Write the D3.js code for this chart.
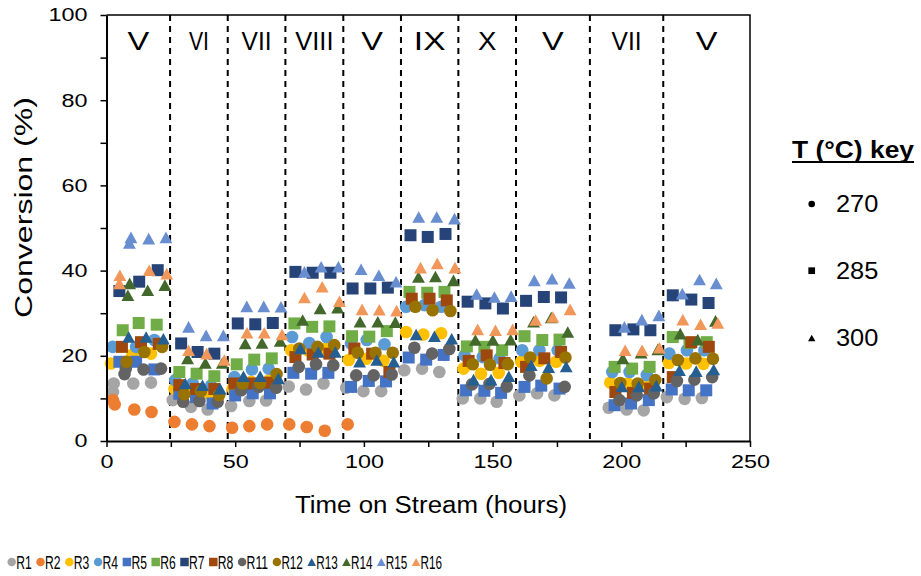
<!DOCTYPE html>
<html>
<head>
<meta charset="utf-8">
<script src="https://cdn.jsdelivr.net/npm/d3@7"></script>
<style>
  html, body { margin: 0; padding: 0; background: #fff; }
  svg { display: block; font-family: "Liberation Sans", Arial, sans-serif; }
</style>
</head>
<body>
<svg id="chart" width="921" height="576"></svg>
<script>
// ---------------- DATA ----------------
const seriesNames  = ["R1","R2","R3","R4","R5","R6","R7","R8","R11","R12","R13","R14","R15","R16"];
const seriesColors = ["#A5A5A5","#ED7D31","#FFC000","#5B9BD5","#4472C4","#70AD47","#264478","#9E480E","#636363","#997300","#255E91","#43682B","#698ED0","#F1975A"];
const seriesShapes = ["circle","circle","circle","circle","square","square","square","square","circle","circle","triangle","triangle","triangle","triangle"];

const r1  = [[2.5,11.5],[2.8,13.5],[10.4,13.5],[17.3,13.7],[25.7,9.6],[32.8,8.0],[39.3,7.4],[48.4,8.2],[55.5,9.4],[62,9.5],[70.8,12.8],[77.5,12.1],[84.3,13.5],[93.1,12.5],[99.8,11.7],[106.7,11.7],[115.7,16.6],[122.6,17],[129.3,16.2],[138.4,10],[145.2,10],[151.6,9.2],[160.4,10.7],[167.3,11.2],[174,10.7],[195.1,7.8],[202.1,7.4],[208.7,7.2],[217.7,10.3],[224.6,9.9],[231.3,10.1]];
const r2  = [[2.5,9.6],[3.2,8.6],[10.8,7.4],[17.5,6.8],[26.4,4.5],[33.2,3.9],[40,3.5],[48.8,3.1],[55.5,3.5],[62.4,3.9],[71,3.9],[77.8,3.3],[84.8,2.4],[93.7,3.9]];
const r3  = [[1.7,18.2],[10.1,20.3],[17.3,20.5],[26.4,12.3],[33.5,11.5],[40,11.1],[49,12.3],[56.2,13.9],[63.3,14.3],[71.7,21.3],[78.2,21.3],[85.3,21.7],[94.1,19],[100.9,19.3],[107.6,18.8],[116.4,25.6],[123.1,25],[130,25.3],[138.7,17],[145.5,15.8],[152.4,16],[161.1,18.6],[168.2,18.8],[174.7,18.6],[195.7,13.7],[202.5,13.5],[209.4,13.5],[218.5,18.3],[225.2,18.2],[231.9,18.1]];
const r4  = [[2.4,22.1],[11.5,22.1],[18.6,23.7],[26.7,14.3],[33.5,13.5],[40.6,13],[49.7,15],[56.5,16.8],[63,17],[72.1,24.4],[78.8,23],[85.5,24.4],[95,22.9],[101.1,23.7],[108,22.7],[116.4,31.5],[123.5,31.9],[130,31.5],[139.1,20.1],[146.2,19.7],[152.7,19.4],[161.5,21.3],[168.2,21.3],[175.3,21.3],[196.5,16.2],[203.2,16.2],[209.9,15.5],[218.7,20.5],[225.5,21.3],[232.3,21.3]];
const r5  = [[5,18.6],[11.5,18.6],[18.6,16.8],[28.3,11.1],[34.8,10.3],[41.2,8.8],[50,10.7],[56.8,11.2],[63.5,11.2],[72.6,16],[79.5,15.8],[86.2,16],[95,12.7],[101.9,14.1],[108.6,14],[117.4,19.6],[124.2,19.1],[131,20.2],[139.7,11.9],[146.8,11.8],[153.3,11.3],[162.4,12.7],[168.9,13],[176,12.3],[197.4,8.4],[203.8,8.8],[210.7,9.6],[219.6,12.1],[226.2,11.9],[233,11.9]];
const r6  = [[6.3,26],[12.5,27.7],[19.5,27.3],[28.3,16.2],[35,15.8],[41.9,15.2],[50.6,18],[57.4,19.1],[64.2,19.4],[73,27.6],[79.9,26.8],[86.6,26.9],[95.4,24.6],[102.1,24.5],[108.9,25.8],[117.7,35],[124.6,34.8],[131.3,35],[140,22.2],[146.8,22.1],[153.7,21.3],[162.4,24.6],[169.3,23.7],[176,23.8],[197.4,17.4],[204.2,17],[211,17.4],[220,24.4],[226.5,23],[233.2,23.2]];
const r7  = [[5,35.2],[12.7,37.4],[19.9,40.1],[29,22.9],[35.4,20.9],[41.9,20.5],[51,27.6],[57.8,27.4],[64.6,27.7],[73.4,39.7],[80.1,39.5],[87,39.5],[95.6,35.8],[102.5,35.8],[109.3,36],[118.1,48.3],[124.8,47.9],[131.7,48.6],[140.3,32.7],[147.2,32.3],[154,31.1],[163,32.9],[169.9,33.8],[176.6,33.7],[197.7,26],[204.7,26.2],[211.3,26],[220,34.2],[227.2,33.2],[233.9,32.4]];
const r8  = [[6,22.1],[13.4,23.2],[20.3,22.8],[28.3,13.1],[34.8,12.2],[41.9,12.2],[49.7,13.5],[57.1,13.5],[63.5,13.7],[73.4,19.7],[80.1,20.3],[86.6,20.5],[96.3,21.7],[103.2,20.5],[109.9,16.2],[118.6,33.4],[125.5,33.4],[132.2,33],[140.7,18.8],[147.7,20.1],[154.6,18.3],[163,17.4],[170.1,19.4],[176.6,20.9],[197.7,11.5],[204.5,11.3],[211.2,12.3],[220,15],[227.2,23.2],[234,22.1]];
const r11 = [[7,15.7],[7.5,17],[14.4,16.8],[21.2,17],[29.8,9.2],[36.1,9.4],[43.2,9.2],[52.3,11.9],[59.1,12.7],[65.9,12.5],[74.7,17.4],[81.4,18],[88.1,17.8],[97,15.4],[103.8,15.4],[110.8,15.6],[119.6,21.9],[126.5,20.5],[133.2,21.6],[142,13.3],[148.8,13.4],[155.5,12.8],[164.3,15.4],[178,12.7],[199.3,9.6],[206,10.7],[212.6,11.2],[221.6,14.1],[228.4,14.4],[235.3,15]];
const r12 = [[7.8,18.6],[14.7,20.9],[21.6,22.1],[30.2,11],[36.7,11.7],[43.8,10.8],[52.9,13.5],[59.7,13.6],[66.1,15.7],[74.9,21.7],[82,22.1],[88.5,22.5],[97.6,20.7],[104.5,20.7],[111.2,20.7],[120,31.5],[126.7,30.7],[133.6,30.5],[142.3,18],[149,17.9],[155.9,18],[164.6,19.6],[171,14.7],[178.3,19.6],[199.6,13.6],[206.4,13.5],[213.2,14.3],[222,19],[228.8,19.4],[235.6,19.3]];
const r13 = [[8.6,24.4],[15.4,24.4],[22.1,24],[30.6,13.5],[37.3,13.1],[44.1,12.3],[53.2,15.2],[59.7,15.2],[66.8,14.7],[75.3,21.7],[82.3,20.9],[88.9,20.9],[98.3,18.6],[105,19],[111.6,18.6],[120.3,25],[127.4,24.6],[134.1,24],[142.6,14.4],[149.4,14.4],[156.3,15.2],[165,17.8],[171.8,17.3],[178.6,17.5],[200.2,12.8],[206.8,12.8],[213.6,13],[222.6,16.6],[229.1,16.4],[235.9,16.8]];
const r14 = [[8.3,34.2],[9,37],[16,35.4],[22.7,36.6],[31.5,19.4],[38.4,18.3],[45,18.3],[53.9,22.9],[60.4,23],[67.5,23.5],[76.2,28.4],[83,31.1],[89.8,31.3],[98.5,28],[105.4,28],[112.2,27.9],[121.2,38.5],[127.8,38.6],[134.8,37.7],[143.3,23.7],[150.1,23.7],[157,23.8],[165.9,28],[172.8,29],[179.2,25.6],[200.6,19.4],[207.7,20.7],[214.2,21.5],[222.9,25.2],[229.7,23.8],[236.6,28.2]];
const r15 = [[8.9,46.5],[9.5,47.8],[16.4,47.5],[23.1,47.8],[31.9,26.8],[38.7,24.8],[45.4,24.8],[54.5,31.6],[61.1,31.6],[67.8,31.5],[76.9,39.7],[83.4,40.9],[90.1,40.9],[98.9,40.3],[105.8,38.9],[112.5,37.4],[121.3,52.6],[128.3,52.6],[135.2,52.2],[143.8,34.5],[150.7,33.8],[157.2,34],[166.2,37.7],[173.1,38.1],[179.8,37.1],[201.2,26.8],[208,28.5],[214.6,29.5],[223.7,34.6],[230.4,37.9],[236.9,37]];
const r16 = [[5,37],[5.2,38.9],[16.6,40.1],[23.4,39.3],[31.9,21.3],[38.9,20.5],[45.8,19],[54.6,25.4],[61.3,25.4],[68.2,25],[76.9,33.7],[83.8,36.2],[90.5,32.8],[99.3,30.9],[106,30.8],[112.7,30.6],[122,40.7],[128.5,41.7],[135.4,40.7],[144.2,26.2],[151.1,26],[157.8,26.2],[166.7,28.4],[173.4,29.1],[180.1,30.9],[201.5,21.3],[208.1,21.3],[214.8,21.9],[223.9,28.5],[230.8,27.4],[237.5,27.7]];
const seriesData = [r1,r2,r3,r4,r5,r6,r7,r8,r11,r12,r13,r14,r15,r16];

const segLabels = ["V","VI","VII","VIII","V","IX","X","V","VII","V"];
const segBounds = [24.7,47.1,69.5,92,114.4,136.7,159.1,187.8,216.3];   // hours (dashed lines)
const xTicks = [0,25,50,75,100,125,150,175,200,225,250];
const yTicks = [0,10,20,30,40,50,60,70,80,90,100];
const keyShapes = ["circle","square","triangle"];
const keyTemps  = ["270","285","300"];

// ---------------- DRAW ----------------
const svg = d3.select("#chart");
const x = d3.scaleLinear().domain([0,250]).range([106.5,750]);
const y = d3.scaleLinear().domain([0,100]).range([441,15]);

function shapePath(shape, s) {
  if (shape === "circle") { const r = s/2; return `M${-r},0A${r},${r} 0 1,0 ${r},0A${r},${r} 0 1,0 ${-r},0Z`; }
  if (shape === "square") { const h = s/2; return `M${-h},${-h}H${h}V${h}H${-h}Z`; }
  const w = s*1.02, h = s*0.92;
  return `M0,${-h/2}L${w/2},${h/2}L${-w/2},${h/2}Z`;
}

// plot frame
svg.append("path")
  .attr("d", `M${x(0)},${y(100)}H${x(250)}V${y(0)}`)
  .attr("fill","none").attr("stroke","#000").attr("stroke-width",1.5);

// dashed separators
svg.append("g").selectAll("line").data(segBounds).join("line")
  .attr("x1", d => x(d)).attr("x2", d => x(d))
  .attr("y1", y(100)).attr("y2", y(0))
  .attr("stroke","#000").attr("stroke-width",2).attr("stroke-dasharray","6,5");

// segment labels
const segEdges = [0, ...segBounds, 250];
svg.append("g").selectAll("text").data(segLabels).join("text")
  .attr("x", (d,i) => x((segEdges[i]+segEdges[i+1])/2))
  .attr("y", 50)
  .attr("text-anchor","middle")
  .attr("font-size", 25)
  .attr("textLength", d => ({"V":21.7,"VI":20,"VII":30,"VIII":38.3,"IX":31.7,"X":18.4})[d])
  .attr("lengthAdjust","spacingAndGlyphs")
  .attr("fill","#000")
  .text(d => d);

// series points
seriesData.forEach((data, i) => {
  const size = seriesShapes[i] === "circle" ? 12.6 : (seriesShapes[i] === "square" ? 12 : 12.6);
  svg.append("g").selectAll("path").data(data).join("path")
    .attr("transform", d => `translate(${x(d[0])},${y(d[1])})`)
    .attr("d", shapePath(seriesShapes[i], size))
    .attr("fill", seriesColors[i]);
});

// axes
const yAxis = d3.axisLeft(y).tickValues(yTicks).tickSize(6).tickSizeOuter(0).tickPadding(13)
  .tickFormat(d => d % 20 === 0 ? d : "");
const gy = svg.append("g").attr("transform", `translate(${x(0)},0)`).call(yAxis);
const xAxis = d3.axisBottom(x).tickValues(xTicks).tickSize(6).tickSizeOuter(0)
  .tickFormat(d => d % 50 === 0 ? d : "");
const gx = svg.append("g").attr("transform", `translate(0,${y(0)})`).call(xAxis);
[gx, gy].forEach(g => {
  g.select(".domain").attr("stroke","#000").attr("stroke-width",2);
  g.selectAll(".tick line").attr("stroke","#000").attr("stroke-width",1.5);
  g.selectAll(".tick text")
    .attr("font-family", '"Liberation Sans", Arial, sans-serif')
    .attr("font-size", 18.6).attr("fill","#000")
    .each(function(d) {
      const t = d3.select(this).text();
      if (t) d3.select(this).attr("textLength", t.length * 13).attr("lengthAdjust","spacingAndGlyphs");
    });
});
gx.selectAll(".tick text").attr("dy", 0).attr("y", 27.3);

// axis titles
svg.append("text")
  .attr("x", 431).attr("y", 513.3).attr("text-anchor","middle")
  .attr("font-size", 23).attr("textLength", 272).attr("lengthAdjust","spacingAndGlyphs")
  .text("Time on Stream (hours)");
svg.append("text")
  .attr("transform", "translate(31.7,207.5) rotate(-90)")
  .attr("text-anchor","middle")
  .attr("font-size", 23).attr("textLength", 221).attr("lengthAdjust","spacingAndGlyphs")
  .text("Conversion (%)");

// temperature key
svg.append("text")
  .attr("x", 792).attr("y", 158.3)
  .attr("font-size", 24).attr("font-weight","bold")
  .attr("textLength", 122).attr("lengthAdjust","spacingAndGlyphs")
  .text("T (°C) key");
svg.append("line").attr("x1",792).attr("x2",914).attr("y1",162).attr("y2",162)
  .attr("stroke","#000").attr("stroke-width",2);
const keyY = [204, 270.7, 338];
const keyG = svg.append("g").selectAll("g").data(keyTemps).join("g")
  .attr("transform", (d,i) => `translate(0,${keyY[i]})`);
keyG.append("path")
  .attr("transform","translate(811.7,0)")
  .attr("d", (d,i) => shapePath(keyShapes[i], keyShapes[i]==="circle" ? 6.6 : (keyShapes[i]==="square" ? 6.7 : 7.2)))
  .attr("fill","#000");
keyG.append("text")
  .attr("x", 836).attr("y", 8)
  .attr("font-size", 23).attr("textLength", 42.3).attr("lengthAdjust","spacingAndGlyphs")
  .text(d => d);

// bottom legend
let lx = 11.7;
const legG = svg.append("g");
seriesNames.forEach((name, i) => {
  const tl = name.length === 2 ? 15.5 : 21.5;
  legG.append("path")
    .attr("transform", `translate(${lx},562)`)
    .attr("d", shapePath(seriesShapes[i], 8.5))
    .attr("fill", seriesColors[i]);
  legG.append("text")
    .attr("x", lx + 4.5).attr("y", 568.5)
    .attr("font-size", 18).attr("textLength", tl).attr("lengthAdjust","spacingAndGlyphs")
    .attr("fill","#000")
    .text(name);
  lx += 4.5 + tl + 8.8;
});
</script>
</body>
</html>
